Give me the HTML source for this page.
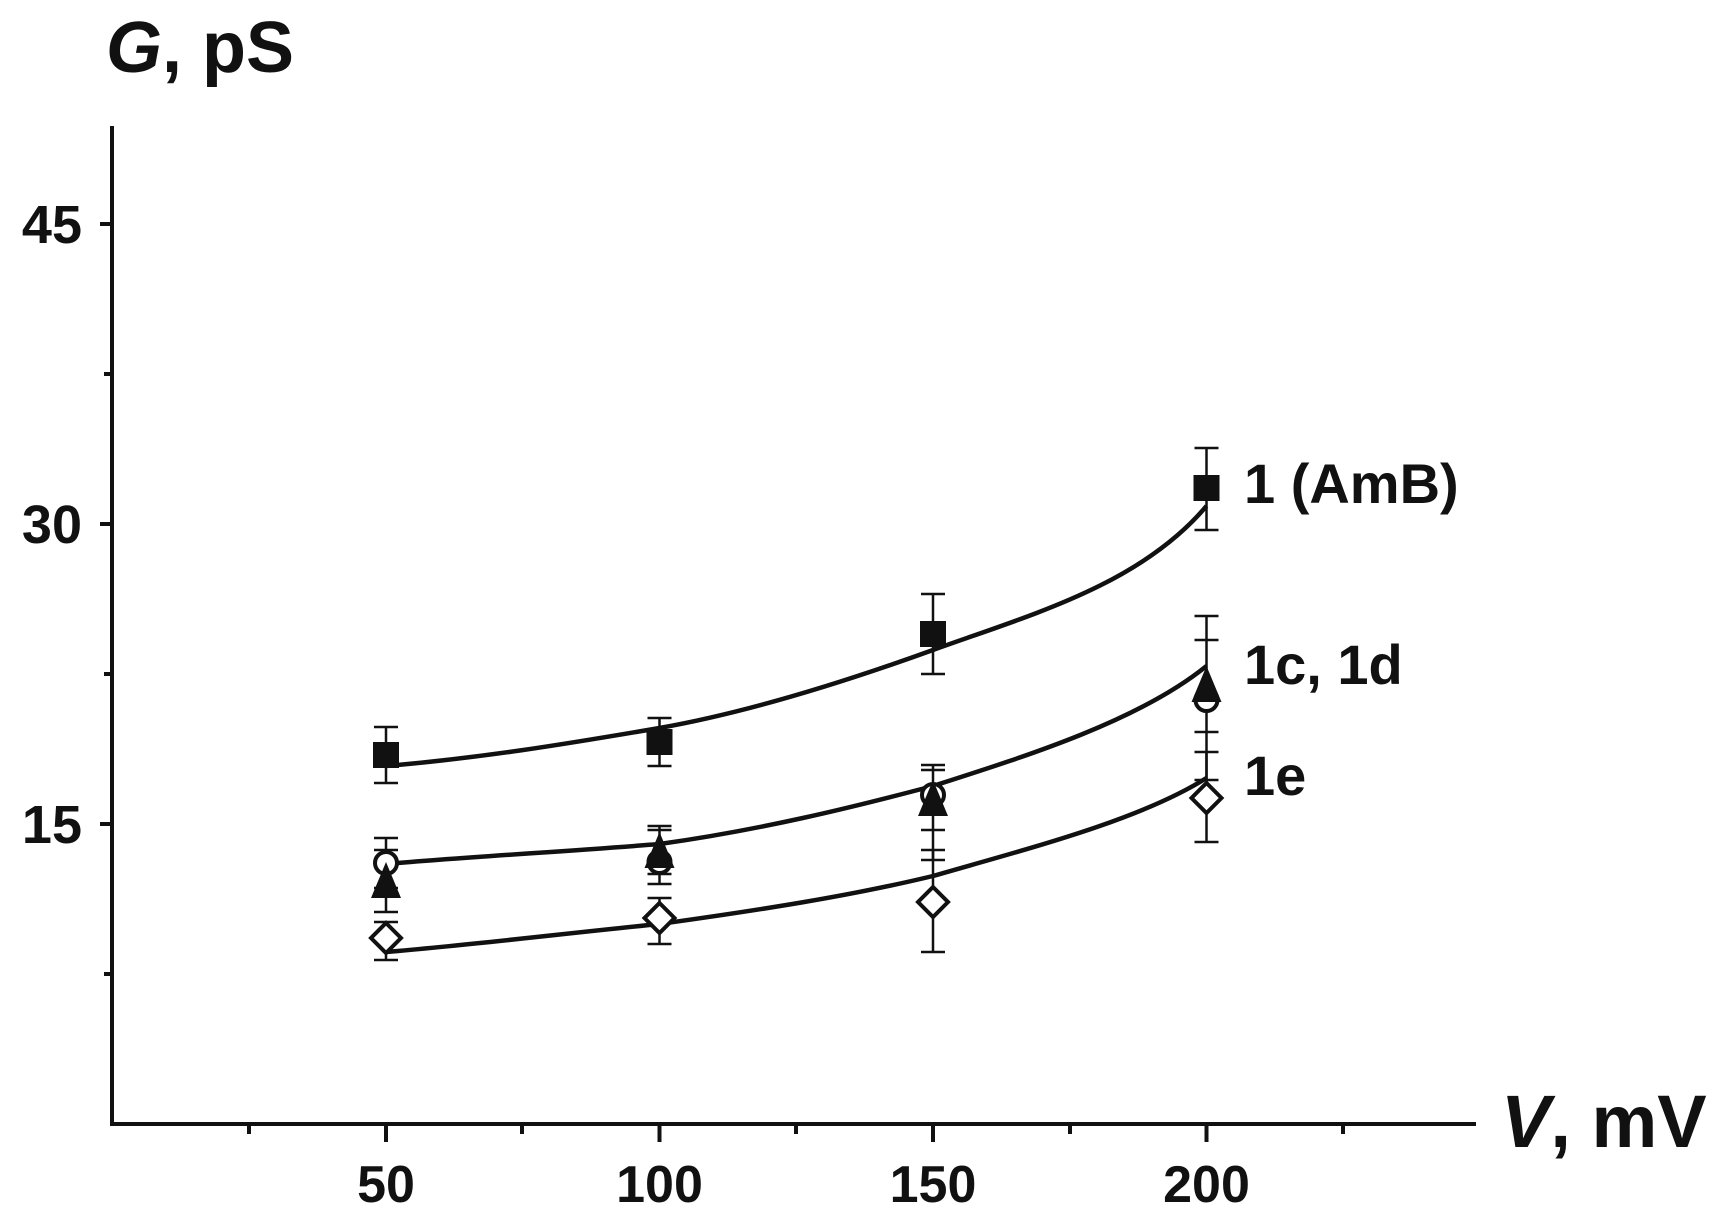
<!DOCTYPE html>
<html><head><meta charset="utf-8"><style>
html,body{margin:0;padding:0;background:#fff;}
svg text{font-family:"Liberation Sans",Arial,sans-serif;font-weight:bold;fill:#111;}
</style></head><body>
<svg width="1721" height="1225" viewBox="0 0 1721 1225" xmlns="http://www.w3.org/2000/svg">
<rect width="1721" height="1225" fill="#fff"/>
<g stroke="#111" stroke-width="4" fill="none">
<path d="M112,126 V1124 H1476"/>
<path d="M100,224 H112 M100,524 H112 M100,824 H112 M104,374 H112 M104,674 H112 M104,974 H112"/>
<path d="M386,1124 V1142 M659.5,1124 V1142 M933,1124 V1142 M1206.5,1124 V1142 M249,1124 V1134 M522,1124 V1134 M796,1124 V1134 M1070,1124 V1134 M1343,1124 V1134"/>
</g>
<text x="82" y="243" font-size="54" text-anchor="end">45</text>
<text x="82" y="543" font-size="54" text-anchor="end">30</text>
<text x="82" y="843" font-size="54" text-anchor="end">15</text>
<text x="386" y="1202" font-size="52" text-anchor="middle">50</text>
<text x="659.5" y="1202" font-size="52" text-anchor="middle">100</text>
<text x="933" y="1202" font-size="52" text-anchor="middle">150</text>
<text x="1206.5" y="1202" font-size="52" text-anchor="middle">200</text>
<text x="106" y="72" font-size="72"><tspan font-style="italic">G</tspan>, pS</text>
<text x="1501" y="1147" font-size="74"><tspan font-style="italic">V</tspan>, mV</text>
<text x="1244" y="503" font-size="56">1 (AmB)</text>
<text x="1244" y="684" font-size="56">1c, 1d</text>
<text x="1244" y="795" font-size="56">1e</text>
<g stroke="#111" stroke-width="4.5" fill="none">
<path d="M386,766 C480,758 560,745 659.5,728 C750,712 850,680 933,650 C1030,615 1140,585 1206.5,506"/>
<path d="M386,864 C480,856 560,852 659.5,844 C760,830 850,808 933,786 C1030,755 1140,720 1206.5,666"/>
<path d="M386,952 C480,944 560,934 659.5,924 C760,910 850,896 933,876 C1030,848 1140,820 1206.5,778"/>
</g>
<g stroke="#111" stroke-width="2.5" fill="none">
<path d="M386,727 V783 M374,727 H398 M374,783 H398"/>
<path d="M659.5,718 V766 M647.5,718 H671.5 M647.5,766 H671.5"/>
<path d="M933,594 V674 M921,594 H945 M921,674 H945"/>
<path d="M1206.5,448 V530 M1194.5,448 H1218.5 M1194.5,530 H1218.5"/>
<path d="M386,838 V912 M374,838 H398 M374,850 H398 M374,888 H398 M374,912 H398"/>
<path d="M659.5,826 V884 M647.5,830 H671.5 M647.5,826 H671.5 M647.5,874 H671.5 M647.5,884 H671.5"/>
<path d="M933,765 V860 M921,765 H945 M921,770 H945 M921,830 H945 M921,860 H945"/>
<path d="M1206.5,616 V780 M1194.5,616 H1218.5 M1194.5,640 H1218.5 M1194.5,732 H1218.5 M1194.5,780 H1218.5"/>
<path d="M386,922 V960 M374,922 H398 M374,960 H398"/>
<path d="M659.5,898 V944 M647.5,898 H671.5 M647.5,944 H671.5"/>
<path d="M933,850 V952 M921,850 H945 M921,952 H945"/>
<path d="M1206.5,752 V842 M1194.5,752 H1218.5 M1194.5,842 H1218.5"/>
</g>
<g fill="#111">
<rect x="373" y="742" width="26" height="26"/>
<rect x="646.5" y="729" width="26" height="26"/>
<rect x="920" y="621" width="26" height="26"/>
<rect x="1193.5" y="475" width="26" height="26"/>
</g>
<g fill="#fff" stroke="#111" stroke-width="4">
<circle cx="386" cy="863" r="11"/>
<circle cx="659.5" cy="862" r="11"/>
<circle cx="933" cy="795" r="11"/>
<circle cx="1206.5" cy="700" r="11"/>
</g>
<g fill="#111">
<path d="M386,862 L401,898 L371,898 Z"/>
<path d="M659.5,832 L674.5,868 L644.5,868 Z"/>
<path d="M933,780 L948,816 L918,816 Z"/>
<path d="M1206.5,666 L1221.5,702 L1191.5,702 Z"/>
</g>
<g fill="#fff" stroke="#111" stroke-width="4">
<path d="M386,923 L401,938 L386,953 L371,938 Z"/>
<path d="M659.5,903 L674.5,918 L659.5,933 L644.5,918 Z"/>
<path d="M933,887 L948,902 L933,917 L918,902 Z"/>
<path d="M1206.5,783 L1221.5,798 L1206.5,813 L1191.5,798 Z"/>
</g>
</svg>
</body></html>
